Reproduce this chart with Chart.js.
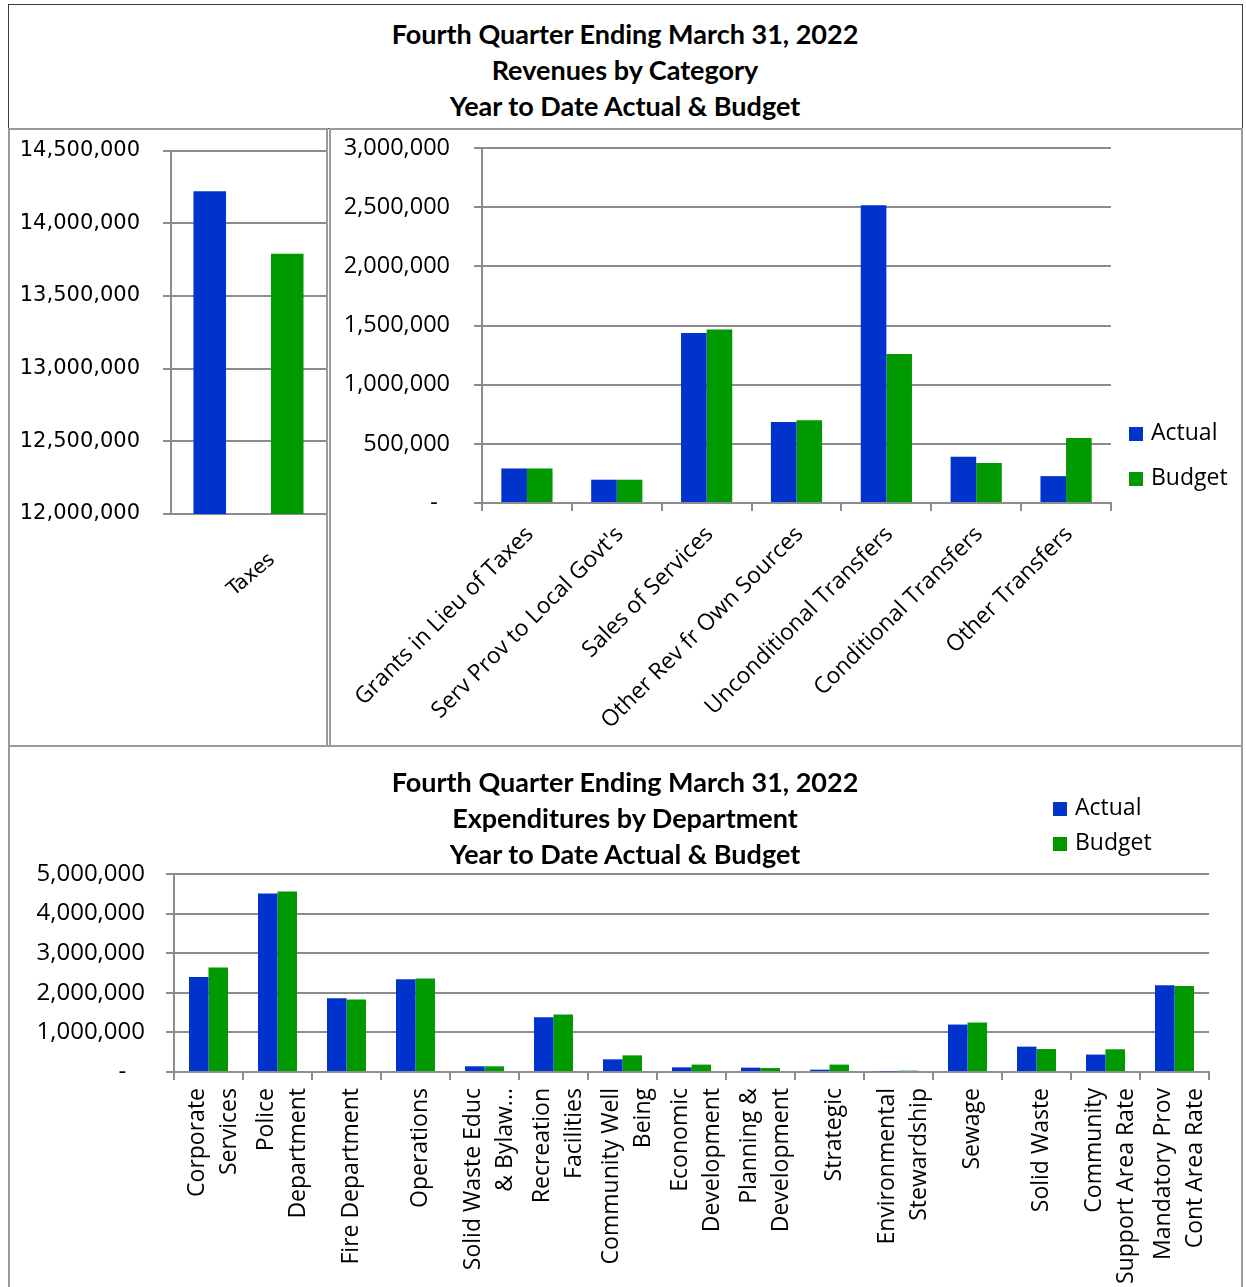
<!DOCTYPE html>
<html><head><meta charset="utf-8">
<script src="https://cdn.jsdelivr.net/npm/chart.js@4.4.1/dist/chart.umd.min.js"></script>
<style>
html,body{margin:0;padding:0;background:#fff;}
body{width:1246px;height:1287px;overflow:hidden;position:relative;}
.box{position:absolute;box-sizing:border-box;background:#fff;}
.cv{position:absolute;}
.ttl{position:absolute;left:8px;width:1234px;text-align:center;font:bold 27px Lato,'Open Sans',sans-serif;color:#000;line-height:36px;}
.leg{position:absolute;font:23px 'Open Sans',sans-serif;color:#000;white-space:nowrap;}
.leg div{height:35px;line-height:35px;}
.leg span.sw{display:inline-block;width:14px;height:14px;margin-right:8px;vertical-align:-1px;}
</style>
</head><body>
<div class="box" style="left:8px;top:4px;width:1235px;height:125px;border:1.5px solid #3a3a3a;"></div>
<div class="ttl" style="top:16px;">Fourth Quarter Ending March 31, 2022<br>Revenues by Category<br>Year to Date Actual &amp; Budget</div>
<div class="box" style="left:8px;top:128px;width:320px;height:619px;border:2px solid #9a9a9a;"></div>
<div class="box" style="left:329px;top:128px;width:914px;height:619px;border:2px solid #9a9a9a;"></div>
<div class="box" style="left:8px;top:745px;width:1235px;height:560px;border:2px solid #9a9a9a;"></div>
<canvas id="tax" class="cv" style="left:10px;top:115px;" width="316" height="629"></canvas>
<canvas id="rev" class="cv" style="left:331px;top:110px;" width="910" height="635"></canvas>
<canvas id="exp" class="cv" style="left:10px;top:747px;" width="1231" height="540"></canvas>
<div class="ttl" style="top:764px;">Fourth Quarter Ending March 31, 2022<br>Expenditures by Department<br>Year to Date Actual &amp; Budget</div>
<div class="leg" style="left:1129px;top:409px;"><div style="height:45px;line-height:45px;"><span class="sw" style="background:#0033CC"></span>Actual</div><div style="height:45px;line-height:45px;"><span class="sw" style="background:#009900"></span>Budget</div></div>
<div class="leg" style="left:1053px;top:789px;"><div><span class="sw" style="background:#0033CC"></span>Actual</div><div><span class="sw" style="background:#009900"></span>Budget</div></div>
<script>
// ---- data ----
const seriesNames = ['Actual', 'Budget'];
const taxCategories = ['Taxes'];
const taxActual = [14220000];
const taxBudget = [13790000];
const taxTicks = [12000000, 12500000, 13000000, 13500000, 14000000, 14500000];

const revCategories = ['Grants in Lieu of Taxes', "Serv Prov to Local Govt's", 'Sales of Services', 'Other Rev fr Own Sources', 'Unconditional Transfers', 'Conditional Transfers', 'Other Transfers'];
const revActual = [292000, 197000, 1436000, 684000, 2517000, 390000, 227000];
const revBudget = [292000, 197000, 1467000, 700000, 1259000, 339000, 550000];
const revTicks = [0, 500000, 1000000, 1500000, 2000000, 2500000, 3000000];

const expCategories = [['Corporate','Services'], ['Police','Department'], ['Fire Department'], ['Operations'], ['Solid Waste Educ','& Bylaw...'], ['Recreation','Facilities'], ['Community Well','Being'], ['Economic','Development'], ['Planning &','Development'], ['Strategic'], ['Environmental','Stewardship'], ['Sewage'], ['Solid Waste'], ['Community','Support Area Rate'], ['Mandatory Prov','Cont Area Rate']];
const expActual = [2400000, 4510000, 1860000, 2340000, 144000, 1380000, 320000, 118000, 110000, 59000, 17000, 1198000, 640000, 440000, 2190000];
const expBudget = [2640000, 4560000, 1830000, 2360000, 144000, 1450000, 420000, 187000, 100000, 187000, 34000, 1250000, 580000, 574000, 2170000];
const expTicks = [0, 1000000, 2000000, 3000000, 4000000, 5000000];

// ---- styling ----
const BLUE = '#0033CC', GREEN = '#009900', GRID = '#8c8c8c';
const fmtWith = zero => v => v === 0 ? zero : Number(v).toLocaleString('en-US');
Chart.defaults.animation = false;
Chart.defaults.responsive = false;
Chart.defaults.color = '#000';
Chart.defaults.plugins.legend.display = false;
Chart.defaults.plugins.tooltip.enabled = false;

function ds(a, b, bp, cp) {
  return [
    {label: seriesNames[0], data: a, backgroundColor: BLUE, barPercentage: bp, categoryPercentage: cp},
    {label: seriesNames[1], data: b, backgroundColor: GREEN, barPercentage: bp, categoryPercentage: cp}
  ];
}
function yAxis(min, max, ticks, font, pad, width, zero) {
  return {
    min, max,
    afterBuildTicks: s => { s.ticks = ticks.map(v => ({value: v})); },
    ticks: {callback: fmtWith(zero), font, padding: pad, color: '#000'},
    grid: {color: GRID, lineWidth: 2, tickLength: 8, tickColor: GRID},
    border: {display: true, color: GRID, width: 2},
    afterFit: s => { s.width = width; }
  };
}

// Taxes chart
new Chart(document.getElementById('tax'), {
  type: 'bar',
  data: {labels: taxCategories, datasets: ds(taxActual, taxBudget, 0.42, 1.0)},
  options: {
    layout: {padding: {top: 0, right: 0, left: 0, bottom: 0}},
    scales: {
      x: {
        grid: {display: false},
        border: {display: true, color: GRID, width: 2},
        ticks: {minRotation: 40, maxRotation: 40, font: {family: 'DejaVu Sans', size: 20}, color: '#000', labelOffset: 24, padding: 26},
        afterFit: s => { s.height = 230; }
      },
      y: yAxis(12000000, 14500000, taxTicks, {family: 'DejaVu Sans', size: 21}, 23, 161, '-')
    }
  }
});

// Revenue chart
new Chart(document.getElementById('rev'), {
  type: 'bar',
  data: {labels: revCategories, datasets: ds(revActual, revBudget, 1.0, 0.57)},
  options: {
    layout: {padding: {top: 0, right: 130, left: 0, bottom: 0}},
    scales: {
      x: {
        grid: {display: true, drawOnChartArea: false, offset: true, color: GRID, lineWidth: 2, tickLength: 8},
        border: {display: true, color: GRID, width: 2},
        ticks: {minRotation: 45, maxRotation: 45, autoSkip: false, font: {family: 'Open Sans', size: 22.8}, color: '#000', padding: 10, labelOffset: 3},
        afterFit: s => { s.height = 242; }
      },
      y: yAxis(0, 3000000, revTicks, {family: 'Open Sans', size: 23.5}, 24, 151, '-  ')
    }
  }
});

// Expenditure chart
const expLabels = expCategories.map(l => l.length === 2 ? [l[0], '', l[1]] : ['', l[0]]);
new Chart(document.getElementById('exp'), {
  type: 'bar',
  data: {labels: expLabels, datasets: ds(expActual, expBudget, 1.0, 0.565)},
  options: {
    layout: {padding: {top: 127, right: 32, left: 0, bottom: 0}},
    scales: {
      x: {
        grid: {display: true, drawOnChartArea: false, offset: true, color: GRID, lineWidth: 2, tickLength: 8},
        border: {display: true, color: GRID, width: 2},
        ticks: {minRotation: 90, maxRotation: 90, autoSkip: false, font: {family: 'Open Sans', size: 23, lineHeight: '16px'}, color: '#000', padding: 8, labelOffset: -11},
        afterFit: s => { s.height = 215; }
      },
      y: yAxis(0, 5000000, expTicks, {family: 'Open Sans', size: 24}, 21, 164, '-   ')
    }
  }
});
</script>
</body></html>
